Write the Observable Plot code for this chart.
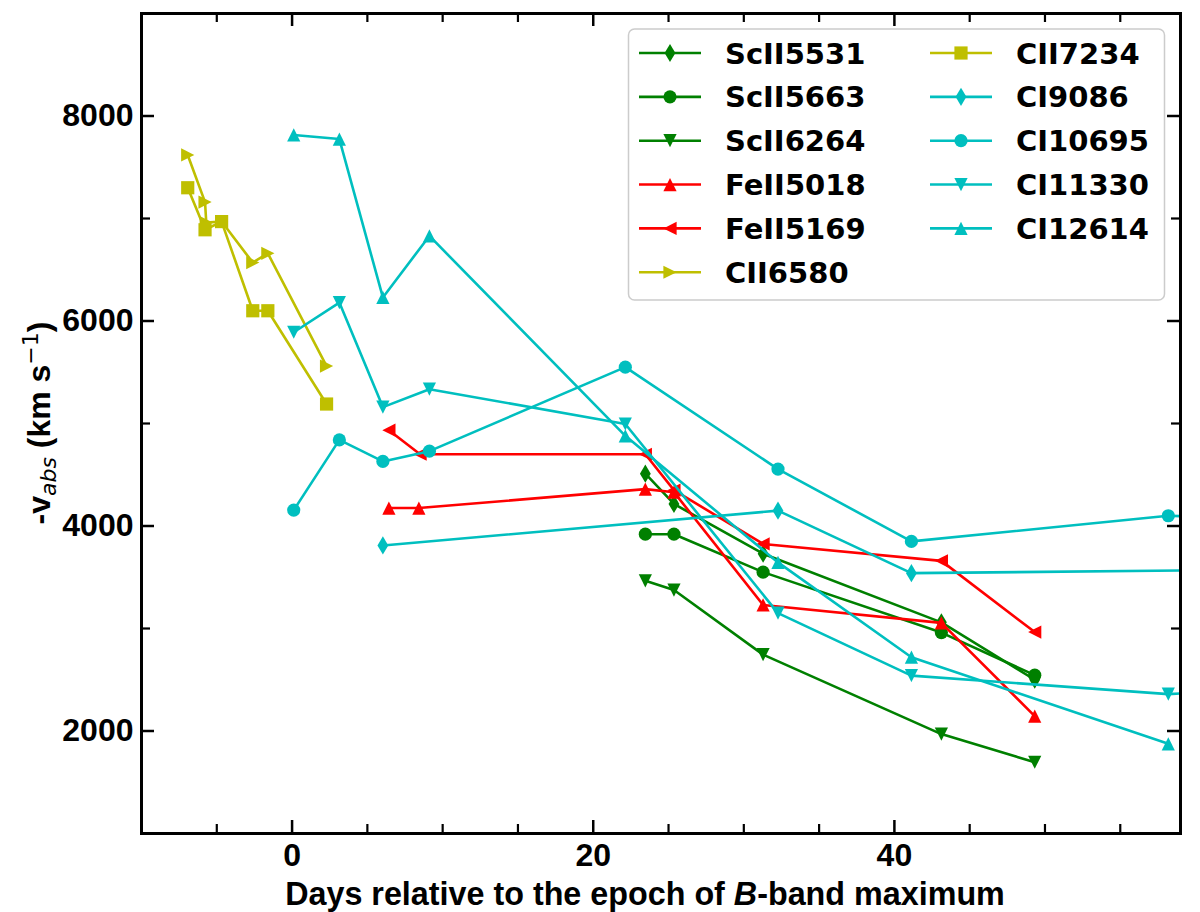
<!DOCTYPE html>
<html><head><meta charset="utf-8">
<script src="https://cdn.jsdelivr.net/npm/d3@7"></script>
<script src="https://cdn.jsdelivr.net/npm/@observablehq/plot@0.6"></script>
<style>body{margin:0;background:#fff;} #chart{position:relative;width:1200px;height:912px;}</style>
</head><body><div id="chart"></div>
<script>
// ---- data (days relative to B max, -v_abs in km/s) ----
const days_ScII5531 = [23.46, 25.36, 31.28, 43.12, 49.32];
const vel_ScII5531  = [4510, 4215, 3730, 3060, 2500];
const days_ScII5663 = [23.46, 25.36, 31.28, 43.12, 49.32];
const vel_ScII5663  = [3920, 3920, 3550, 2960, 2545];
const days_ScII6264 = [23.46, 25.36, 31.28, 43.12, 49.32];
const vel_ScII6264  = [3465, 3375, 2745, 1970, 1695];
const days_FeII5018 = [6.43, 8.42, 23.46, 25.36, 31.28, 43.12, 49.32];
const vel_FeII5018  = [4175, 4175, 4360, 4330, 3230, 3055, 2145];
const days_FeII5169 = [6.43, 8.5, 23.46, 25.36, 31.28, 43.12, 49.32];
const vel_FeII5169  = [4935, 4700, 4700, 4350, 3825, 3660, 2965];
const days_CII6580  = [-6.93, -5.78, -5.7, -4.68, -2.61, -1.61, 2.29];
const vel_CII6580   = [7620, 7160, 6960, 6970, 6570, 6660, 5560];
const days_CII7234  = [-6.93, -5.78, -4.68, -2.61, -1.61, 2.29];
const vel_CII7234   = [7300, 6890, 6970, 6100, 6100, 5190];
const days_CI9086   = [6.03, 32.27, 41.13, 62];
const vel_CI9086    = [3810, 4150, 3540, 3570];
const days_CI10695  = [0.11, 3.14, 6.03, 9.12, 22.13, 32.27, 41.13, 58.19, 62];
const vel_CI10695   = [4155, 4840, 4630, 4730, 5550, 4555, 3850, 4100, 4080];
const days_CI11330  = [0.11, 3.14, 6.03, 9.12, 22.13, 32.27, 41.13, 58.19, 62];
const vel_CI11330   = [5890, 6180, 5160, 5335, 4995, 3150, 2540, 2360, 2390];
const days_CI12614  = [0.11, 3.14, 6.03, 9.12, 22.13, 32.27, 41.13, 58.19];
const vel_CI12614   = [7815, 7775, 6230, 6830, 4880, 3645, 2720, 1875];

const lineNames = ["ScII5531","ScII5663","ScII6264","FeII5018","FeII5169","CII6580","CII7234","CI9086","CI10695","CI11330","CI12614"];
const lineDays = [days_ScII5531, days_ScII5663, days_ScII6264, days_FeII5018, days_FeII5169, days_CII6580, days_CII7234, days_CI9086, days_CI10695, days_CI11330, days_CI12614];
const lineVels = [vel_ScII5531, vel_ScII5663, vel_ScII6264, vel_FeII5018, vel_FeII5169, vel_CII6580, vel_CII7234, vel_CI9086, vel_CI10695, vel_CI11330, vel_CI12614];

const xMajorTicks = [0, 20, 40];
const xMinorTicks = [-5, 5, 10, 15, 25, 30, 35, 45, 50, 55];
const yMajorTicks = [2000, 4000, 6000, 8000];
const yMinorTicks = [3000, 5000, 7000];

// ---- styles ----
const G = "#008000", R = "#ff0000", Y = "#bfbf00", C = "#00bfbf";
function mk(fn){ return {draw(ctx, size){ const h = Math.sqrt(size / Math.PI); fn(ctx, h); }}; }
const SYM = {
  thinDiamond: mk((c,h)=>{const a=1.38*h,b=0.82*h; c.moveTo(0,-a); c.lineTo(b,0); c.lineTo(0,a); c.lineTo(-b,0); c.closePath();}),
  circle: mk((c,h)=>{c.moveTo(h,0); c.arc(0,0,h,0,2*Math.PI); c.closePath();}),
  triDown: mk((c,h)=>{c.moveTo(0,h); c.lineTo(h,-h); c.lineTo(-h,-h); c.closePath();}),
  triUp: mk((c,h)=>{c.moveTo(0,-h); c.lineTo(h,h); c.lineTo(-h,h); c.closePath();}),
  triLeft: mk((c,h)=>{c.moveTo(-h,0); c.lineTo(h,-h); c.lineTo(h,h); c.closePath();}),
  triRight: mk((c,h)=>{c.moveTo(h,0); c.lineTo(-h,-h); c.lineTo(-h,h); c.closePath();}),
  square: mk((c,h)=>{c.rect(-h,-h,2*h,2*h);})
};
const styleOf = {
  ScII5531:{color:G,sym:"thinDiamond"}, ScII5663:{color:G,sym:"circle"}, ScII6264:{color:G,sym:"triDown"},
  FeII5018:{color:R,sym:"triUp"}, FeII5169:{color:R,sym:"triLeft"},
  CII6580:{color:Y,sym:"triRight"}, CII7234:{color:Y,sym:"square"},
  CI9086:{color:C,sym:"thinDiamond"}, CI10695:{color:C,sym:"circle"}, CI11330:{color:C,sym:"triDown"}, CI12614:{color:C,sym:"triUp"}
};
const MR = 6.6;
const LW = 2.6;

const W = 1200, H = 912, ML = 141, MR_ = 20, MT = 13, MB = 79;
const plotH = H - MT - MB, plotW = W - ML - MR_;
const AX_FONT = "'Liberation Sans', Arial, sans-serif";

const marks = [];
lineNames.forEach((name, k) => {
  const data = lineDays[k].map((d, i) => ({day: d, vel: lineVels[k][i]}));
  const st = styleOf[name];
  marks.push(Plot.line(data, {x: "day", y: "vel", stroke: st.color, strokeWidth: LW, clip: true}));
  marks.push(Plot.dot(data, {x: "day", y: "vel", symbol: SYM[st.sym], r: MR, fill: st.color, stroke: "none", clip: true}));
});
// inward ticks on all four sides
marks.push(Plot.tickX(xMajorTicks, {x: d => d, insetTop: plotH - 13, stroke: "black", strokeWidth: 2.5}));
marks.push(Plot.tickX(xMajorTicks, {x: d => d, insetBottom: plotH - 13, stroke: "black", strokeWidth: 2.5}));
marks.push(Plot.tickX(xMinorTicks, {x: d => d, insetTop: plotH - 9, stroke: "black", strokeWidth: 2.2}));
marks.push(Plot.tickX(xMinorTicks, {x: d => d, insetBottom: plotH - 9, stroke: "black", strokeWidth: 2.2}));
marks.push(Plot.tickY(yMajorTicks, {y: d => d, insetRight: plotW - 13, stroke: "black", strokeWidth: 2.5}));
marks.push(Plot.tickY(yMajorTicks, {y: d => d, insetLeft: plotW - 13, stroke: "black", strokeWidth: 2.5}));
marks.push(Plot.tickY(yMinorTicks, {y: d => d, insetRight: plotW - 9, stroke: "black", strokeWidth: 2.2}));
marks.push(Plot.tickY(yMinorTicks, {y: d => d, insetLeft: plotW - 9, stroke: "black", strokeWidth: 2.2}));
marks.push(Plot.axisX(xMajorTicks, {tickSize: 0, tickPadding: 10, fontSize: 32, fontWeight: "bold", fontFamily: AX_FONT, label: null, tickFormat: d => `${d}`}));
marks.push(Plot.axisY(yMajorTicks, {tickSize: 0, tickPadding: 8, fontSize: 32, fontWeight: "bold", fontFamily: AX_FONT, label: null, tickFormat: d => `${d}`}));
marks.push(Plot.frame({stroke: "black", strokeWidth: 3}));

const svg = Plot.plot({
  width: W, height: H,
  marginLeft: ML, marginRight: MR_, marginTop: MT, marginBottom: MB,
  x: {domain: [-10, 59]},
  y: {domain: [1000, 9000]},
  style: {background: "white", color: "black", fontFamily: AX_FONT, fontWeight: "bold", fontSize: "32px", overflow: "visible"},
  marks
});
document.getElementById("chart").appendChild(svg);

const s = d3.select(svg);
// x-axis title
const xt = s.append("text").attr("x", 645).attr("y", 905).attr("text-anchor", "middle")
  .attr("font-family", AX_FONT).attr("font-weight", "bold").attr("font-size", 32.3).attr("fill", "black");
xt.append("tspan").text("Days relative to the epoch of ");
xt.append("tspan").attr("font-style", "italic").text("B");
xt.append("tspan").text("-band maximum");
// y-axis title
const yt = s.append("text").attr("transform", `translate(50,${MT + plotH / 2}) rotate(-90)`).attr("text-anchor", "middle")
  .attr("font-family", AX_FONT).attr("font-weight", "bold").attr("font-size", 32).attr("fill", "black");
yt.append("tspan").text("-v");
yt.append("tspan").attr("font-style", "italic").attr("font-weight", "normal").attr("font-family", "'DejaVu Sans', sans-serif").attr("font-size", 22).attr("dy", 6).text("abs");
yt.append("tspan").attr("dy", -6).text(" (km s");
yt.append("tspan").attr("font-weight", "normal").attr("font-family", "'DejaVu Sans', sans-serif").attr("font-size", 22).attr("dy", -12).text("\u22121");
yt.append("tspan").attr("dy", 12).text(")");

// legend
const lg = s.append("g");
lg.append("rect").attr("x", 628.5).attr("y", 29).attr("width", 536).attr("height", 271).attr("rx", 6)
  .attr("fill", "white").attr("fill-opacity", 0.8).attr("stroke", "#cccccc").attr("stroke-width", 1.5);
const colX = [639, 930], rowY0 = 53, rowDY = 43.85, perCol = 6;
lineNames.forEach((name, k) => {
  const col = Math.floor(k / perCol), row = k % perCol;
  const x0 = colX[col], y0 = rowY0 + row * rowDY;
  const st = styleOf[name];
  lg.append("line").attr("x1", x0).attr("x2", x0 + 62).attr("y1", y0).attr("y2", y0).attr("stroke", st.color).attr("stroke-width", LW);
  lg.append("path").attr("transform", `translate(${x0 + 31},${y0})`).attr("fill", st.color)
    .attr("d", d3.symbol(SYM[st.sym], Math.PI * MR * MR)());
  lg.append("text").attr("x", x0 + 86).attr("y", y0 + 10.5).attr("text-anchor", "start").attr("font-family", "'DejaVu Sans', sans-serif")
    .attr("font-weight", "bold").attr("font-size", 29).attr("fill", "black").text(name);
});
</script></body></html>
